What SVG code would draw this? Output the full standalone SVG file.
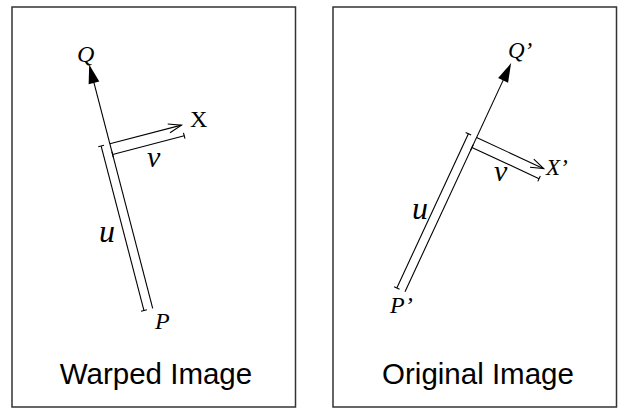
<svg xmlns="http://www.w3.org/2000/svg" width="623" height="408" viewBox="0 0 623 408">
<defs>
<style>
.frame{fill:#fff;stroke:#333;stroke-width:1.5}
.ln{stroke:#000;stroke-width:1.1;fill:none}
.lab{font-family:"Liberation Serif","Times New Roman",serif;font-style:italic;fill:#000}
.up{font-family:"Liberation Serif","Times New Roman",serif;fill:#000}
.title{font-family:"Liberation Sans",Arial,sans-serif;font-size:29.5px;fill:#000;text-anchor:middle}
</style>
</defs>
<rect width="623" height="408" fill="#fff"/>
<g id="panel-warped">
<rect class="frame" x="12" y="7" width="283.5" height="400"/>
<text class="title" x="156" y="384">Warped Image</text>
</g>
<g id="panel-original">
<rect class="frame" x="333" y="7" width="283.5" height="400"/>
<text class="title" x="478" y="384">Original Image</text>
</g>
<g id="connectors">
<g transform="translate(152.7,308.3) rotate(-14.6)">
<line class="ln" x1="0" y1="0" x2="0" y2="-236"/>
<polygon points="0,-252 -5.5,-233 5.5,-233" fill="#000"/>
<line class="ln" x1="-9" y1="0" x2="-9" y2="-170"/>
<line class="ln" x1="-12" y1="0" x2="-6" y2="0"/>
<line class="ln" x1="-12" y1="-170" x2="-6" y2="-170"/>
<line class="ln" x1="0" y1="-170" x2="74" y2="-170"/>
<polyline class="ln" points="61,-174.5 74,-170 61,-165.5"/>
<line class="ln" x1="0" y1="-159" x2="74" y2="-159"/>
<line class="ln" x1="0" y1="-162" x2="0" y2="-156"/>
<line class="ln" x1="74" y1="-162" x2="74" y2="-156"/>
</g>
<g transform="translate(405,291.7) rotate(24.9)">
<line class="ln" x1="0" y1="0" x2="0" y2="-236"/>
<polygon points="0,-252 -5.5,-233 5.5,-233" fill="#000"/>
<line class="ln" x1="-9" y1="0" x2="-9" y2="-170"/>
<line class="ln" x1="-12" y1="0" x2="-6" y2="0"/>
<line class="ln" x1="-12" y1="-170" x2="-6" y2="-170"/>
<line class="ln" x1="0" y1="-170" x2="74" y2="-170"/>
<polyline class="ln" points="61,-174.5 74,-170 61,-165.5"/>
<line class="ln" x1="0" y1="-159" x2="74" y2="-159"/>
<line class="ln" x1="0" y1="-162" x2="0" y2="-156"/>
<line class="ln" x1="74" y1="-162" x2="74" y2="-156"/>
</g>
</g>
<g id="labels-warped">
<text class="lab" x="77" y="62" font-size="24">Q</text>
<text class="up" x="190" y="127" font-size="24">X</text>
<text class="lab" x="147" y="167" font-size="30">v</text>
<text class="lab" x="99" y="242" font-size="32">u</text>
<text class="lab" x="155" y="329" font-size="24">P</text>
</g>
<g id="labels-original">
<text class="lab" x="508" y="58" font-size="23">Q’</text>
<text class="lab" x="546" y="175" font-size="23">X’</text>
<text class="lab" x="494" y="181" font-size="30">v</text>
<text class="lab" x="412" y="219" font-size="32">u</text>
<text class="lab" x="390" y="313" font-size="24">P’</text>
</g>
</svg>
